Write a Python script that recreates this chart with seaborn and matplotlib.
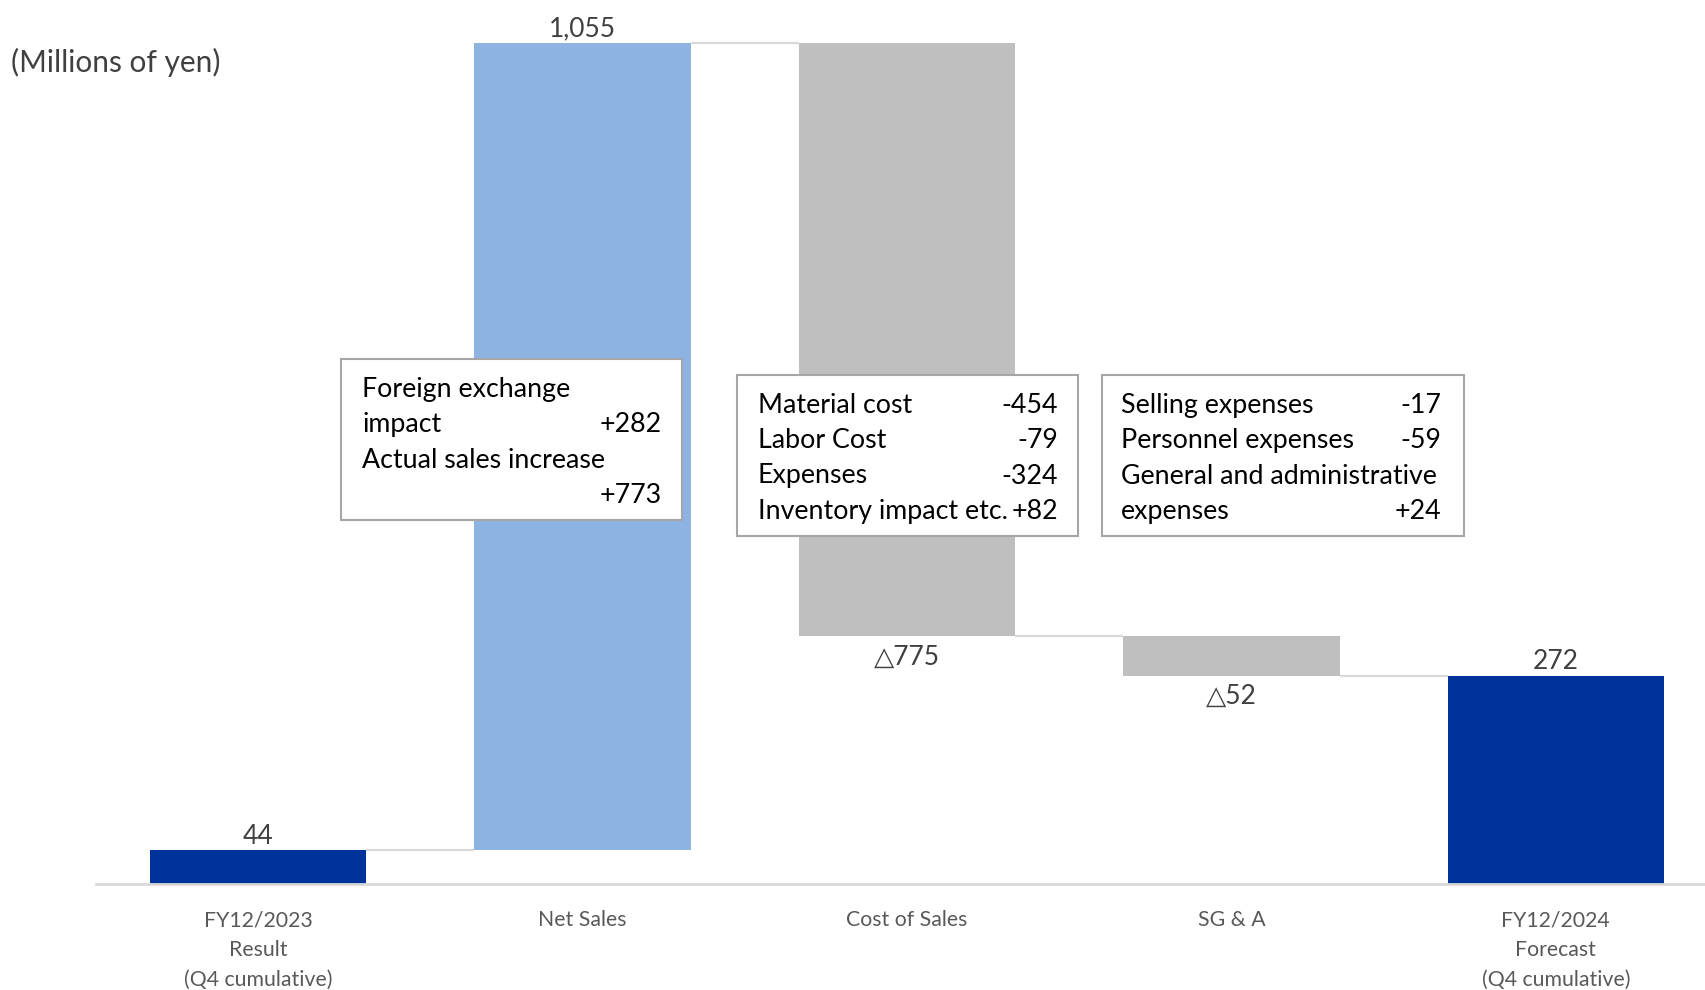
import numpy as np
import pandas as pd
import seaborn as sns
import matplotlib
matplotlib.use("Agg")
import matplotlib.pyplot as plt
from matplotlib.patches import Rectangle

######## data ########
categories = ["FY12/2023\nResult\n(Q4 cumulative)", "Net Sales", "Cost of Sales",
              "SG & A", "FY12/2024\nForecast\n(Q4 cumulative)"]
steps = [44, 1055, -775, -52, 272]
is_total = [True, False, False, False, True]
value_labels = ["44", "1,055", "\u25b3775", "\u25b352", "272"]
bar_colors = ["#003399", "#8db3e2", "#bfbfbf", "#bfbfbf", "#003399"]

box1_lines = [("Foreign exchange", ""), ("impact", "+282"),
              ("Actual sales increase", ""), ("", "+773")]
box2_lines = [("Material cost", "-454"), ("Labor Cost", "-79"),
              ("Expenses", "-324"), ("Inventory impact etc.", "+82")]
box3_lines = [("Selling expenses", "-17"), ("Personnel expenses", "-59"),
              ("General and administrative", ""), ("expenses", "+24")]
######################

# running totals -> bottoms / heights for the waterfall
bottoms, heights, levels = [], [], []
run = 0
for s, tot in zip(steps, is_total):
    if tot:
        bottoms.append(0)
        heights.append(s)
        run = s
    else:
        new = run + s
        bottoms.append(min(run, new))
        heights.append(abs(s))
        run = new
    levels.append(run)

df = pd.DataFrame({"cat": categories, "h": heights, "b": bottoms})

sns.set_theme(style="white")
plt.rcParams['font.family'] = ['Lato', 'DejaVu Sans']

W, H = 1705, 990
fig = plt.figure(figsize=(W / 100, H / 100), dpi=100)
ax = fig.add_axes([96 / W, 106 / H, 1 - 96 / W, 884 / H])

sns.barplot(data=df, x="cat", y="h", bottom=df["b"].values, width=0.667,
            color="#bfbfbf", ax=ax, linewidth=0, zorder=2)
for p, c in zip(ax.patches, bar_colors):
    p.set_facecolor(c)

# connectors
for i in range(len(steps) - 1):
    ax.hlines(levels[i], i + 0.3335, i + 1 - 0.3335, color="#d9d9d9", lw=1.6, zorder=1)

# value labels
for i, (s, lab) in enumerate(zip(steps, value_labels)):
    top = bottoms[i] + heights[i]
    if s >= 0:
        ax.annotate(lab, (i, top), xytext=(0, 1), textcoords="offset points",
                    ha="center", va="bottom", fontsize=19, color="#404040")
    else:
        ax.annotate(lab, (i, bottoms[i]), xytext=(0, -6), textcoords="offset points",
                    ha="center", va="top", fontsize=19, color="#404040")

ax.set_xlim(-0.5, 4.46)
ax.set_ylim(0, 1155)
ax.set_xlabel("")
ax.set_ylabel("")
ax.set_yticks([])
for sp in ["top", "left", "right"]:
    ax.spines[sp].set_visible(False)
ax.spines["bottom"].set_color("#d9d9d9")
ax.spines["bottom"].set_linewidth(2)
ax.tick_params(axis="x", length=0, pad=19, labelsize=15.3, labelcolor="#595959")
for t in ax.get_xticklabels():
    t.set_linespacing(1.6)
    t.set_va("top")

fig.text(11 / W, 1 - 62 / H, "(Millions of yen)", fontsize=21.5, color="#404040",
         ha="left", va="center")


def px_box(x0, y0, x1, y1, lines, tx0, tx1, ty):
    fig.add_artist(Rectangle((x0 / W, 1 - y1 / H), (x1 - x0) / W, (y1 - y0) / H,
                             transform=fig.transFigure, facecolor="white",
                             edgecolor="#a6a6a6", lw=1.5, zorder=5))
    for k, (lab, val) in enumerate(lines):
        y = 1 - (ty + k * 35.5) / H
        if lab:
            fig.text(tx0 / W, y, lab, ha="left", va="center", fontsize=19.3,
                     color="black", zorder=6)
        if val:
            fig.text(tx1 / W, y, val, ha="right", va="center", fontsize=19.3,
                     color="black", zorder=6)


px_box(341, 359, 682, 520, box1_lines, 362, 662, 389)
px_box(737, 375, 1078, 536, box2_lines, 758, 1058, 405)
px_box(1102, 375, 1464, 536, box3_lines, 1121, 1441, 405)

plt.savefig("out.png", dpi=100)
